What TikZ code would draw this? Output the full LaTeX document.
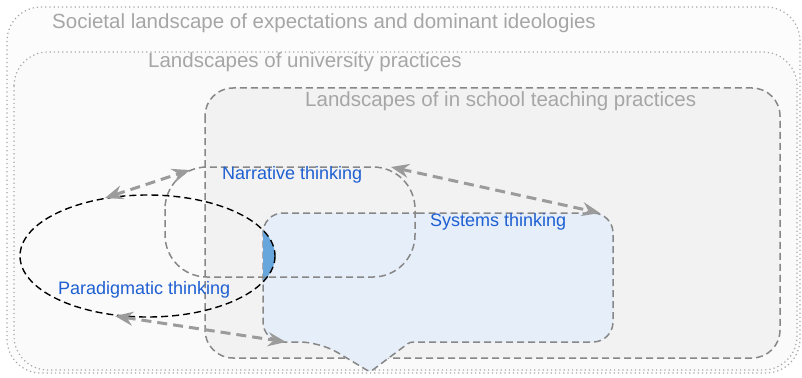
\documentclass[tikz,border=0pt]{standalone}
\usepackage{fontspec}
\setmainfont{Liberation Sans}
\usepackage{tikz}
\usetikzlibrary{arrows.meta}

\definecolor{landgray}{RGB}{166,166,166}
\definecolor{boxgray}{RGB}{135,135,135}
\definecolor{arrowgray}{RGB}{155,155,155}
\definecolor{thinkblue}{RGB}{30,95,210}
\definecolor{sysfill}{RGB}{229,238,249}
\definecolor{lensblue}{RGB}{103,166,220}

\tikzset{
  landlabel/.style={anchor=west, inner sep=0pt, text=landgray, font=\fontsize{20.5}{20.5}\selectfont},
  thinklabel/.style={anchor=west, inner sep=0pt, text=thinkblue, font=\fontsize{18}{18}\selectfont},
  dotbox/.style={draw=landgray, line width=1.2pt, dash pattern=on 1.2pt off 3pt, rounded corners=34pt},
  dashbox/.style={draw=boxgray, line width=1.5pt, dash pattern=on 7pt off 4pt},
  linkarrow/.style={draw=arrowgray, line width=3pt, dash pattern=on 10pt off 6pt,
    {Stealth[length=18pt,width=14pt,inset=6pt]}-{Stealth[length=18pt,width=14pt,inset=6pt]}}
}

\begin{document}
\begin{tikzpicture}[x=1pt, y=-1pt]
    \useasboundingbox (0,0) rectangle (802,377);

    % nested landscapes
    \draw[dotbox, fill=white!99!black] (7,7) rectangle (800,373);
    \draw[dotbox, fill=white!98!black] (14,52) rectangle (797,370);
    \draw[dashbox, fill=white!95!black, rounded corners=28pt] (205,88) rectangle (780,358);

    \node[landlabel] (societal) at (52,23) {Societal landscape of expectations and dominant ideologies};
    \node[landlabel] (university) at (148,62) {Landscapes of university practices};
    \node[landlabel] (school) at (305,101) {Landscapes of in school teaching practices};

    % systems thinking bubble with its tail
    \draw[dashbox, fill=sysfill] (440,213) [rounded corners=20pt] -- (263,213) -- (263,342) -- (320,342)
        [rounded corners=3pt] -- (370,372) -- (410,342)
        [rounded corners=20pt] -- (613,342) -- (613,213) -- cycle;

    % overlap of paradigmatic and systems thinking
    \begin{scope}
        \clip (263,150) rectangle (320,350);
        \fill[lensblue] (147.5,256) ellipse [x radius=127.5, y radius=61];
    \end{scope}

    % narrative and paradigmatic thinking
    \draw[dashbox, rounded corners=42pt] (165,167) rectangle (415,277);
    \draw[black, line width=1.4pt, dash pattern=on 7pt off 4pt] (147.5,256) ellipse [x radius=127.5, y radius=61];

    \node[thinklabel] (narrative) at (222,175) {Narrative thinking};
    \node[thinklabel] (systems) at (430,222) {Systems thinking};
    \node[thinklabel] (paradigmatic) at (58,290) {Paradigmatic thinking};

    % ends of the links
    \coordinate (paraTop) at (105,198);
    \coordinate (narrTopLeft) at (190,170);
    \coordinate (narrTopRight) at (391,167);
    \coordinate (sysTopRight) at (600,213);
    \coordinate (paraBottom) at (115,316);
    \coordinate (sysBottomLeft) at (286,342);

    \foreach \a/\b in {paraTop/narrTopLeft, narrTopRight/sysTopRight, paraBottom/sysBottomLeft} {
        \draw[linkarrow] (\a) -- (\b);
    };
\end{tikzpicture}
\end{document}
